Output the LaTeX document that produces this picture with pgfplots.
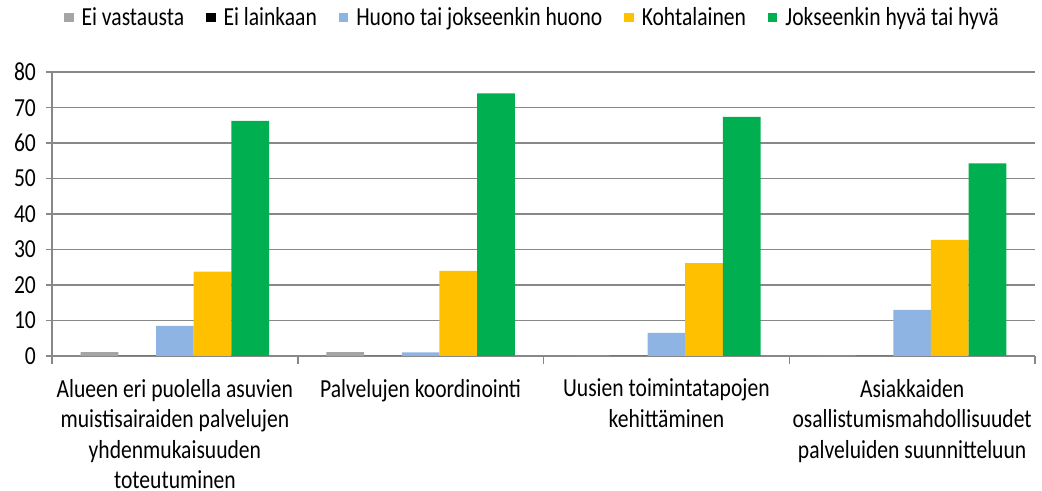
\documentclass[border=0pt]{standalone}
\usepackage{pgfplots}
\pgfplotsset{compat=1.18}
\usepackage{fontspec}
\setmainfont{Carlito}[FakeStretch=0.83]
\definecolor{cgray}{HTML}{A5A5A5}
\definecolor{cblack}{HTML}{000000}
\definecolor{cblue}{HTML}{8EB4E3}
\definecolor{corange}{HTML}{FFC000}
\definecolor{cgreen}{HTML}{00B050}
\definecolor{axgray}{HTML}{888888}
\begin{document}
\begin{tikzpicture}
\path[use as bounding box] (-26pt,-67.5pt) rectangle (495pt,178pt);
\begin{axis}[
  scale only axis, width=491.5pt, height=141.9pt,
  at={(0pt,0pt)}, anchor=south west,
  ybar=0pt, bar width=18.85pt,
  xmin=0.5, xmax=4.5, ymin=0, ymax=80,
  ytick={0,10,...,80},
  xtick={1,2,3,4},
  xticklabels={{Alueen eri puolella asuvien\\muistisairaiden palvelujen\\yhdenmukaisuuden\\toteutuminen},
    {Palvelujen koordinointi},
    {Uusien toimintatapojen\\kehittäminen},
    {Asiakkaiden\\osallistumismahdollisuudet\\palveluiden suunnitteluun}},
  minor xtick={0.5,1.5,2.5,3.5,4.5},
  major x tick style={draw=none},
  minor x tick style={axgray, line width=0.75pt},
  minor tick length=4pt,
  major tick length=3pt,
  y tick style={axgray, line width=0.75pt},
  tick align=outside,
  axis x line*=bottom, axis y line*=left,
  axis line style={-, axgray, line width=0.75pt},
  ymajorgrids, grid style={axgray, line width=0.75pt},
  /pgf/number format/assume math mode=true,
  tick label style={font=\fontsize{13}{15.3}\selectfont, black},
  xticklabel style={align=center, yshift=-5pt},
  yticklabel style={xshift=-1.5pt},
  legend style={draw=none, at={(0.5,1.192)}, anchor=center, xshift=-5pt,
    font=\fontsize{13}{15}\selectfont, legend columns=5,
    /tikz/every odd column/.append style={column sep=2pt},
    /tikz/every even column/.append style={column sep=9pt}},
  legend image code/.code={\fill[#1] (0pt,-2.35pt) rectangle (4.7pt,2.35pt);},
]
\addplot[fill=cgray, draw=none] coordinates {(1,1.1) (2,1.1) (3,0) (4,0)};
\addplot[fill=cblack, draw=none] coordinates {(1,0) (2,0) (3,0) (4,0)};
\addplot[fill=cblue, draw=none] coordinates {(1,8.5) (2,1.0) (3,6.5) (4,13.0)};
\addplot[fill=corange, draw=none] coordinates {(1,23.8) (2,24.0) (3,26.2) (4,32.7)};
\addplot[fill=cgreen, draw=none] coordinates {(1,66.3) (2,74.0) (3,67.4) (4,54.3)};
\legend{Ei vastausta, Ei lainkaan, Huono tai jokseenkin huono, Kohtalainen, Jokseenkin hyvä tai hyvä}
\end{axis}
\end{tikzpicture}
\end{document}
